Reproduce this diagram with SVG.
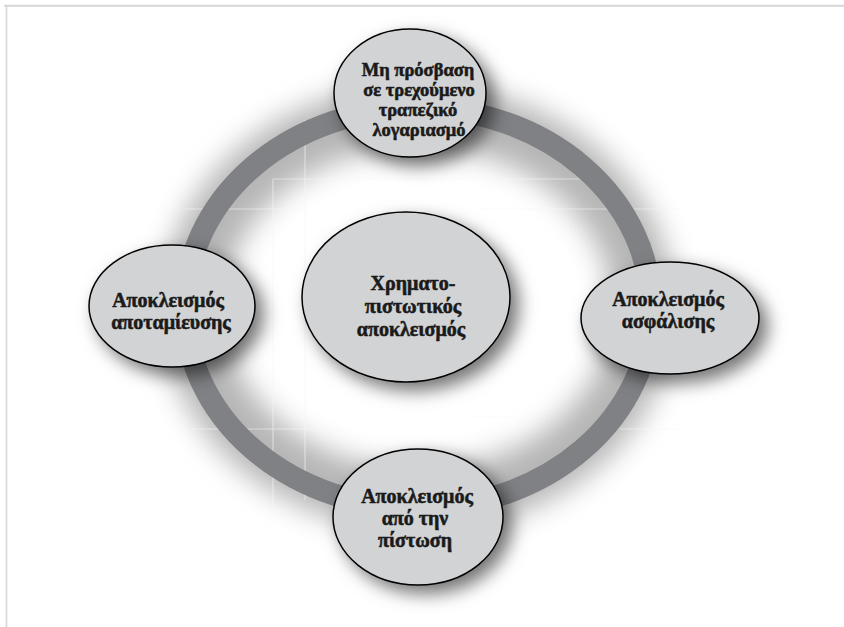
<svg xmlns="http://www.w3.org/2000/svg" width="844" height="627" viewBox="0 0 844 627">
<style>
.node{fill:#d1d3d4;stroke:#000;stroke-width:1.5;filter:url(#shadow)}
.lbl{font-family:"Liberation Serif","Times New Roman",serif;font-weight:bold;font-size:20px;fill:#1a1a1a;stroke:#1a1a1a;stroke-width:0.55px;text-anchor:middle}
.sm{font-size:18.5px}
.grid{stroke:#f6f6f6;stroke-width:1.2;fill:none;opacity:0.55}
</style>
<defs>
<filter id="shadow" x="-30%" y="-30%" width="170%" height="170%">
<feDropShadow dx="8" dy="8" stdDeviation="9" flood-color="#000" flood-opacity="0.55"/>
</filter>
<filter id="glow" x="-30%" y="-30%" width="160%" height="160%">
<feGaussianBlur stdDeviation="14"/>
</filter>
</defs>
<rect width="844" height="627" fill="#fff"/>
<g id="frame">
<line x1="4" y1="5.8" x2="844" y2="5.8" stroke="#d6d6d6" stroke-width="2"/>
<line x1="6.5" y1="5" x2="6.5" y2="627" stroke="#d6d6d6" stroke-width="1.6"/>
</g>
<g id="connectors">
<ellipse cx="418" cy="308" rx="225" ry="192" fill="none" stroke="#8e8e8e" stroke-width="62" opacity="0.65" filter="url(#glow)"/>
<g class="grid">
<line x1="273" y1="179" x2="273" y2="510"/>
<line x1="305" y1="120" x2="305" y2="500"/>
<line x1="273" y1="179" x2="580" y2="179"/>
<line x1="185" y1="209" x2="305" y2="209"/>
<line x1="480" y1="209" x2="680" y2="209"/>
<line x1="185" y1="429" x2="350" y2="429"/>
<line x1="620" y1="429" x2="680" y2="429"/>
<line x1="470" y1="417" x2="515" y2="417"/>
</g>
<ellipse id="ring" cx="418" cy="308" rx="233" ry="200" fill="none" stroke="#808184" stroke-width="22"/>
</g>
<g id="node-center">
<ellipse class="node" cx="406" cy="297" rx="104" ry="85"/>
<text class="lbl" x="413" y="290">Χρηματο-</text>
<text class="lbl" x="413" y="313">πιστωτικός</text>
<text class="lbl" x="411" y="336">αποκλεισμός</text>
</g>
<g id="node-top">
<ellipse class="node" cx="410" cy="93" rx="76" ry="64"/>
<text class="lbl sm" x="418" y="76">Μη πρόσβαση</text>
<text class="lbl sm" x="419" y="96">σε τρεχούμενο</text>
<text class="lbl sm" x="418" y="116">τραπεζικό</text>
<text class="lbl sm" x="419" y="136">λογαριασμό</text>
</g>
<g id="node-left">
<ellipse class="node" cx="172" cy="306" rx="83" ry="61"/>
<text class="lbl" x="168" y="307">Αποκλεισμός</text>
<text class="lbl" x="171" y="329">αποταμίευσης</text>
</g>
<g id="node-right">
<ellipse class="node" cx="670" cy="318" rx="89" ry="56"/>
<text class="lbl" x="668" y="306">Αποκλεισμός</text>
<text class="lbl" x="668" y="328">ασφάλισης</text>
</g>
<g id="node-bottom">
<ellipse class="node" cx="418" cy="517" rx="85" ry="68"/>
<text class="lbl" x="417" y="503">Αποκλεισμός</text>
<text class="lbl" x="415" y="525">από την</text>
<text class="lbl" x="415" y="547">πίστωση</text>
</g>
</svg>
